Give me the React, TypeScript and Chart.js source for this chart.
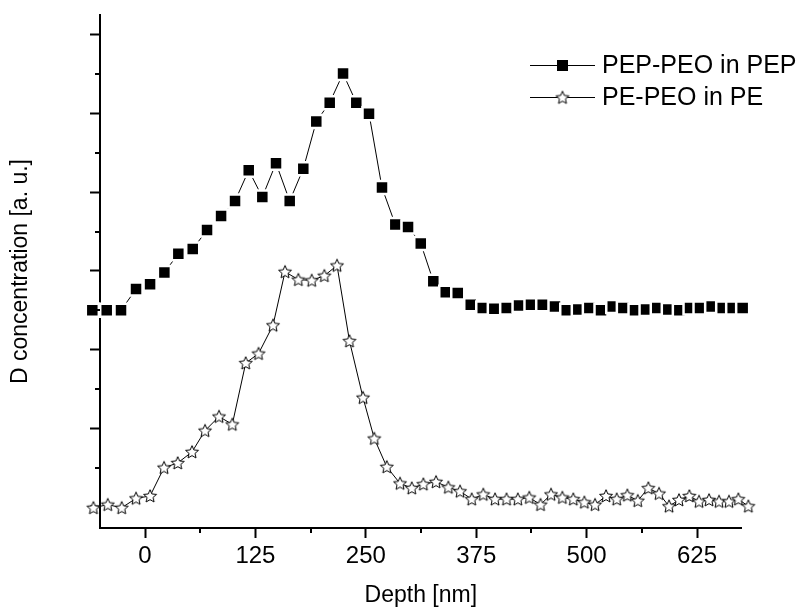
import React, { useEffect, useRef } from "react";
import { Chart, registerables } from "chart.js";

Chart.register(...registerables);

// ---- data ----
const seriesLabels = ["PEP-PEO in PEP", "PE-PEO in PE"];
const xTitle = "Depth [nm]";
const yTitle = "D concentration [a. u.]";

const pepDepth = [-59.7, -43.4, -27.2, -10.2, 5.7, 21.9, 37.7, 54.0, 70.2, 86.1, 101.9, 117.4, 132.8, 148.3, 163.8, 179.2, 193.9, 209.1, 224.2, 239.2, 253.6, 268.3, 283.4, 297.8, 312.2, 326.4, 340.5, 354.1, 368.8, 382.4, 395.5, 409.5, 423.5, 437.0, 450.3, 464.2, 477.5, 490.6, 503.1, 516.3, 529.6, 541.6, 554.8, 567.3, 580.0, 592.5, 605.0, 617.1, 628.4, 641.6, 654.1, 665.4, 676.7];
const pepConc = [2.50, 2.50, 2.50, 2.77, 2.83, 2.98, 3.22, 3.28, 3.52, 3.70, 3.89, 4.28, 3.94, 4.37, 3.89, 4.30, 4.90, 5.14, 5.51, 5.14, 5.00, 4.06, 3.59, 3.56, 3.35, 2.87, 2.73, 2.72, 2.57, 2.53, 2.52, 2.53, 2.56, 2.57, 2.57, 2.55, 2.50, 2.51, 2.53, 2.50, 2.55, 2.53, 2.50, 2.51, 2.53, 2.51, 2.50, 2.53, 2.53, 2.55, 2.53, 2.53, 2.53];

const peDepth = [-58.5, -42.2, -26.4, -10.2, 5.7, 21.5, 37.0, 53.2, 67.9, 83.8, 98.8, 114.0, 128.5, 144.9, 158.5, 173.6, 188.7, 203.0, 217.4, 231.5, 246.8, 259.6, 273.7, 288.7, 302.0, 315.1, 329.5, 343.4, 356.7, 369.9, 383.0, 396.3, 409.3, 422.1, 435.1, 447.8, 459.7, 472.5, 484.9, 497.4, 509.5, 522.0, 534.1, 546.1, 557.9, 569.9, 582.0, 593.3, 604.6, 616.3, 627.3, 638.6, 649.9, 661.2, 671.8, 683.1];
const peConc = [-0.01, 0.03, -0.01, 0.11, 0.14, 0.50, 0.56, 0.70, 0.97, 1.15, 1.05, 1.83, 1.95, 2.31, 2.99, 2.89, 2.88, 2.94, 3.07, 2.11, 1.39, 0.87, 0.51, 0.30, 0.24, 0.29, 0.32, 0.25, 0.20, 0.10, 0.16, 0.10, 0.10, 0.10, 0.12, 0.03, 0.16, 0.12, 0.10, 0.06, 0.03, 0.14, 0.10, 0.15, 0.08, 0.24, 0.17, 0.01, 0.09, 0.14, 0.07, 0.09, 0.07, 0.07, 0.10, 0.01];

const xMajorTicks = [0, 125, 250, 375, 500, 625];
const xMinorTicks = [62.5, 187.5, 312.5, 437.5, 562.5];
const yMajorTicks = [0, 1, 2, 3, 4, 5, 6];
const yMinorTicks = [0.5, 1.5, 2.5, 3.5, 4.5, 5.5];
const xRange = [-51, 675.6];
const yRange = [-0.267, 6.254];

const FONT = "'Liberation Sans', Arial, Helvetica, sans-serif";

function makeStar(R: number): HTMLCanvasElement {
  const size = Math.ceil(2 * R + 4);
  const c = document.createElement("canvas");
  c.width = size;
  c.height = size;
  const ctx = c.getContext("2d")!;
  const cx = size / 2;
  const cy = size / 2 + 0.5;
  ctx.beginPath();
  for (let k = 0; k < 10; k++) {
    const r = k % 2 === 0 ? R : R * 0.46;
    const a = -Math.PI / 2 + (k * Math.PI) / 5;
    const px = cx + r * Math.cos(a);
    const py = cy + r * Math.sin(a);
    if (k === 0) ctx.moveTo(px, py);
    else ctx.lineTo(px, py);
  }
  ctx.closePath();
  ctx.fillStyle = "#fff";
  ctx.fill();
  ctx.lineWidth = 1;
  ctx.lineJoin = "miter";
  ctx.strokeStyle = "#000";
  ctx.stroke();
  return c;
}

export default function App() {
  const ref = useRef<HTMLCanvasElement | null>(null);

  useEffect(() => {
    if (!ref.current) return;
    const star = makeStar(6.8);

    const decor = {
      id: "decor",
      afterDraw(chart: any) {
        const { ctx, chartArea } = chart;
        const xs = chart.scales.x;
        const ys = chart.scales.y;
        ctx.save();
        // minor ticks
        ctx.strokeStyle = "#000";
        ctx.lineWidth = 2;
        ctx.beginPath();
        xMinorTicks.forEach((v) => {
          const px = Math.round(xs.getPixelForValue(v));
          ctx.moveTo(px, chartArea.bottom);
          ctx.lineTo(px, chartArea.bottom + 5);
        });
        yMinorTicks.forEach((v) => {
          const py = Math.round(ys.getPixelForValue(v));
          ctx.moveTo(chartArea.left - 5, py);
          ctx.lineTo(chartArea.left, py);
        });
        ctx.stroke();

        // legend
        const lx0 = 530;
        const lx1 = 595;
        const mx = 562.5;
        const ty = [65, 97];
        ctx.lineWidth = 1;
        ctx.font = `25px ${FONT}`;
        ctx.textBaseline = "middle";
        ctx.textAlign = "left";
        ctx.fillStyle = "#000";
        seriesLabels.forEach((lab, i) => {
          const y = ty[i];
          ctx.beginPath();
          ctx.moveTo(lx0, y + 0.5);
          ctx.lineTo(lx1, y + 0.5);
          ctx.stroke();
          if (i === 0) {
            ctx.fillRect(mx - 5.5, y - 5, 11, 11);
          } else {
            ctx.drawImage(star, mx - star.width / 2, y + 0.5 - star.height / 2);
          }
          ctx.fillText(lab, 602, y + 1);
        });
        ctx.restore();
      },
    };

    const chart = new Chart(ref.current, {
      type: "line",
      data: {
        datasets: [
          {
            label: seriesLabels[0],
            data: pepDepth.map((x, i) => ({ x, y: pepConc[i] })),
            borderColor: "#000",
            borderWidth: 1,
            backgroundColor: "#000",
            pointStyle: "rect",
            pointRadius: 9.2,
            pointBorderWidth: 2.5,
            pointBorderColor: "#fff",
            pointBackgroundColor: "#000",
            tension: 0,
            clip: false as any,
          },
          {
            label: seriesLabels[1],
            data: peDepth.map((x, i) => ({ x, y: peConc[i] })),
            borderColor: "#000",
            borderWidth: 1,
            pointStyle: star as any,
            pointRadius: 9,
            pointBorderWidth: 0,
            tension: 0,
            clip: false as any,
          },
        ],
      },
      options: {
        responsive: false,
        animation: false,
        events: [],
        layout: { padding: { left: 0, top: 15, right: 58.3, bottom: 0 } },
        plugins: {
          legend: { display: false },
          tooltip: { enabled: false },
          title: { display: false },
        },
        scales: {
          x: {
            type: "linear",
            min: xRange[0],
            max: xRange[1],
            afterBuildTicks: (s: any) => {
              s.ticks = xMajorTicks.map((v) => ({ value: v }));
            },
            afterFit: (s: any) => {
              s.height = 82;
            },
            grid: {
              display: true,
              drawOnChartArea: false,
              drawTicks: true,
              tickLength: 10,
              tickWidth: 2,
              tickColor: "#000",
            },
            border: { display: true, color: "#000", width: 2 },
            ticks: {
              color: "#000",
              font: { family: FONT, size: 24 },
              padding: 4,
              maxRotation: 0,
              autoSkip: false,
            },
            title: {
              display: true,
              text: xTitle,
              color: "#000",
              font: { family: FONT, size: 23 },
              padding: { top: 0, bottom: 1 },
            },
          },
          y: {
            type: "linear",
            min: yRange[0],
            max: yRange[1],
            afterBuildTicks: (s: any) => {
              s.ticks = yMajorTicks.map((v) => ({ value: v }));
            },
            afterFit: (s: any) => {
              s.width = 100;
            },
            grid: {
              display: true,
              drawOnChartArea: false,
              drawTicks: true,
              tickLength: 10,
              tickWidth: 2,
              tickColor: "#000",
            },
            border: { display: true, color: "#000", width: 2 },
            ticks: { display: false },
            title: {
              display: true,
              text: yTitle,
              color: "#000",
              font: { family: FONT, size: 23 },
              padding: { top: 7, bottom: 0 },
            },
          },
        },
      },
      plugins: [decor],
    });
    return () => chart.destroy();
  }, []);

  return (
    <div style={{ position: "fixed", left: 0, top: 0, width: 800, height: 610, background: "#fff" }}>
      <canvas ref={ref} width={800} height={610} style={{ display: "block" }} />
    </div>
  );
}
